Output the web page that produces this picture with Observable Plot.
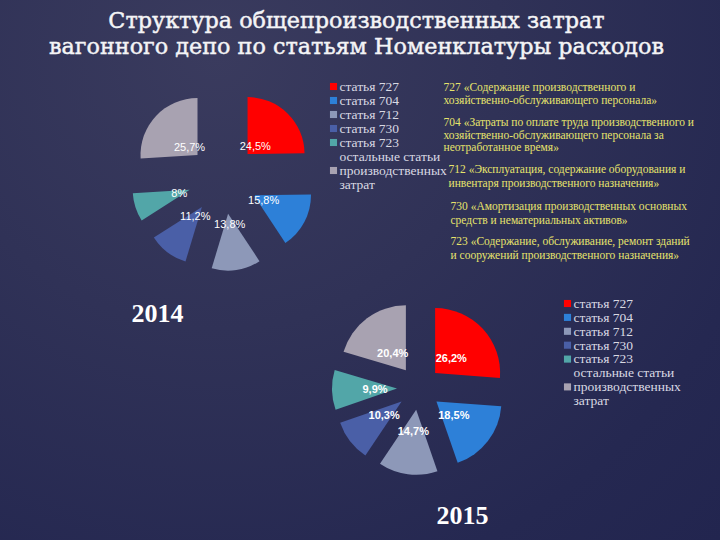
<!DOCTYPE html>
<html>
<head>
<meta charset="utf-8">
<script src="https://cdn.jsdelivr.net/npm/d3@7"></script>
<script src="https://cdn.jsdelivr.net/npm/@observablehq/plot@0.6"></script>
<style>
  html, body { margin: 0; padding: 0; }
  body {
    width: 720px; height: 540px; overflow: hidden;
    background: radial-gradient(ellipse at 30% 10%, #3a3b5e 0%, #303257 40%, #252851 80%, #22254f 100%);
  }
  #chart svg { display: block; background: transparent; }
</style>
</head>
<body>
<div id="chart"></div>
<script>
// ---- data ----
const categories = ["статья 727", "статья 704", "статья 712", "статья 730", "статья 723", "остальные статьи производственных затрат"];
const shares2014 = [24.5, 15.8, 13.8, 11.2, 8, 25.7];
const shares2015 = [26.2, 18.5, 14.7, 10.3, 9.9, 20.4];
const sliceColors = ["#ff0000", "#2d80d8", "#8d98b8", "#4a5fa7", "#52a6a8", "#a8a2b1"];
const legendLines = ["статья 727", "статья 704", "статья 712", "статья 730", "статья 723", "остальные статьи", "производственных", "затрат"];
const legendKeyRow = [0, 1, 2, 3, 4, 6]; // row of each category's swatch
const titleLines = ["Структура общепроизводственных затрат", "вагонного депо по статьям Номенклатуры расходов"];
const years = ["2014", "2015"];
const notes = [
  "727 «Содержание производственного и\nхозяйственно-обслуживающего персонала»",
  "704 «Затраты по оплате труда производственного и\nхозяйственно-обслуживающего персонала за\nнеотработанное время»",
  "712 «Эксплуатация, содержание оборудования и\nинвентаря производственного назначения»",
  "730 «Амортизация производственных основных\nсредств и нематериальных активов»",
  "723 «Содержание, обслуживание, ремонт зданий\nи сооружений производственного назначения»"
];

const fmt = v => String(v).replace(".", ",") + "%";
const rows = values => categories.map((c, i) => ({category: c, value: values[i]}));
const SERIF = "'Liberation Serif', 'Times New Roman', serif";

// exploded pie as a function mark using Plot's scales
function pie(values, {cx, cy, r, explode, labelR, fontWeight}) {
  return function() {
    const scales = [...arguments].find(a => a && typeof a.x === "function" && typeof a.y === "function");
    const data = rows(values);
    const arcs = d3.pie().sort(null).value(d => d.value)(data);
    const arc = d3.arc().innerRadius(0).outerRadius(r);
    const X = scales.x(cx), Y = scales.y(cy);
    const g = d3.create("svg:g").attr("transform", `translate(${X},${Y})`);
    for (const a of arcs) {
      const m = (a.startAngle + a.endAngle) / 2;
      g.append("path")
        .attr("transform", `translate(${explode * Math.sin(m)},${-explode * Math.cos(m)})`)
        .attr("d", arc(a))
        .attr("fill", scales.color(a.data.category));
    }
    for (const a of arcs) {
      const m = (a.startAngle + a.endAngle) / 2;
      g.append("text")
        .attr("x", labelR * Math.sin(m))
        .attr("y", -labelR * Math.cos(m))
        .attr("text-anchor", "middle")
        .attr("dy", "0.35em")
        .attr("fill", "#ffffff")
        .attr("font-family", "'Liberation Sans', Arial, sans-serif")
        .attr("font-size", 11)
        .attr("font-weight", fontWeight)
        .text(fmt(a.data.value));
    }
    return g.node();
  };
}

function legend(x0, y0, step) {
  const lineData = legendLines.map((t, i) => ({t, i}));
  const keyData = categories.map((c, i) => ({c, row: legendKeyRow[i]}));
  return [
    Plot.dot(keyData, {x: x0, y: d => y0 + d.row * step, fill: "c", symbol: "square", r: 4}),
    Plot.text(lineData, {x: x0 + 6, y: d => y0 + d.i * step, text: "t", textAnchor: "start",
      fill: "#d9d9e3", fontFamily: SERIF, fontSize: 13.5})
  ];
}

const noteTop = [81.5, 116.5, 163.5, 199.5, 234.5];
const noteX = [443, 443, 448, 450, 450];
const noteLH = [1.1, 1.1, 1.15, 1.2, 1.2];

const chart = Plot.plot({
  width: 720,
  height: 540,
  margin: 0,
  x: {domain: [0, 720], range: [0, 720], axis: null},
  y: {domain: [0, 540], range: [0, 540], axis: null},
  color: {domain: categories, range: sliceColors},
  style: {background: "transparent", overflow: "visible"},
  marks: [
    Plot.text(titleLines, {x: 356, y: (d, i) => [20.5, 46.5][i], text: d => d, fill: "#f4f4f6",
      stroke: "#f4f4f6", strokeWidth: 0.45, fontSize: 22.3,
      fontFamily: "'DejaVu Serif', serif", textAnchor: "middle"}),
    pie(shares2014, {cx: 223, cy: 179, r: 57, explode: 35, labelR: 46, fontWeight: "normal"}),
    pie(shares2015, {cx: 419, cy: 388, r: 65, explode: 22, labelR: 44, fontWeight: "bold"}),
    ...legend(333, 86, 14),
    ...legend(567, 303, 13.9),
    ...notes.map((n, i) => Plot.text([n], {x: noteX[i], y: noteTop[i], text: d => d, textAnchor: "start",
      lineAnchor: "top", lineHeight: noteLH[i],
      fill: "#e6e36c", fontSize: 11.5, fontFamily: SERIF})),
    Plot.text(years, {x: (d, i) => [157, 462][i], y: (d, i) => [313, 515][i], text: d => d,
      fill: "#ffffff", fontSize: 26, fontWeight: "bold", fontFamily: SERIF})
  ]
});
document.getElementById("chart").append(chart);
</script>
</body>
</html>
